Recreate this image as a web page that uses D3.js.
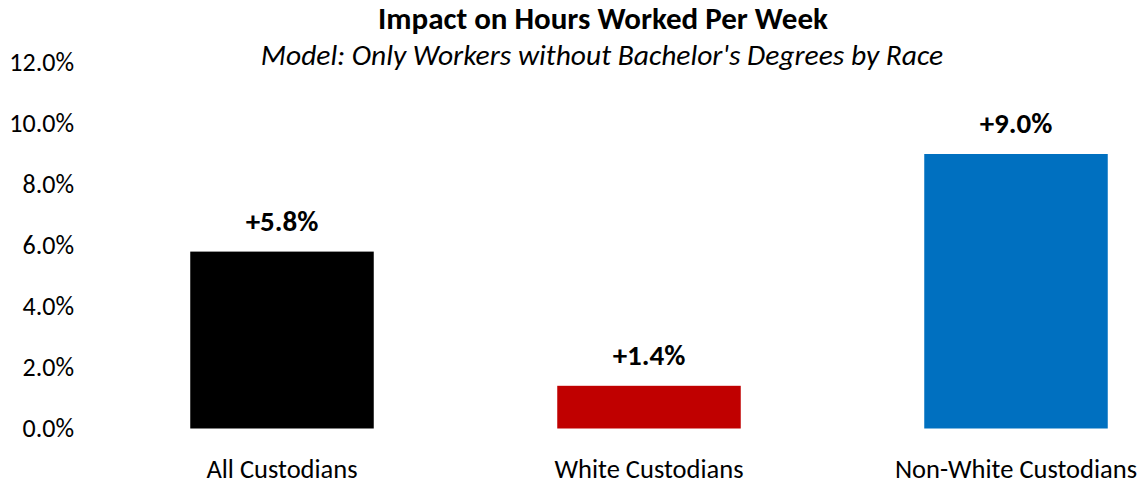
<!DOCTYPE html>
<html><head><meta charset="utf-8">
<script src="https://cdn.jsdelivr.net/npm/d3@7"></script>
<style>body{margin:0;background:#fff;} text{font-family:Carlito, Calibri, Lato, "Open Sans", sans-serif;}</style>
</head><body><svg id="c" width="1148" height="486"></svg>
<script>
const categories = ["All Custodians", "White Custodians", "Non-White Custodians"];
const values = [5.8, 1.4, 9.0];
const colors = ["#000000", "#C00000", "#0070C0"];
const yTicks = [0, 2, 4, 6, 8, 10, 12];
const title = "Impact on Hours Worked Per Week";
const subtitle = "Model: Only Workers without Bachelor's Degrees by Race";

const svg = d3.select("#c");
const x = d3.scaleBand().domain(categories).range([98.5, 1199.5]).paddingInner(0.5).paddingOuter(0.25);
const y = d3.scaleLinear().domain([0, 12]).range([428.5, 62.5]);

svg.append("text").attr("x", 603).attr("y", 29).attr("text-anchor", "middle")
  .attr("font-size", 31).attr("font-weight", "bold").text(title);
svg.append("text").attr("x", 602).attr("y", 65).attr("text-anchor", "middle")
  .attr("font-size", 29.5).attr("font-style", "italic").text(subtitle);

const yAxis = d3.axisLeft(y).tickValues(yTicks).tickFormat(d => d.toFixed(1) + "%").tickSize(0).tickPadding(0);
const ya = svg.append("g").attr("transform", "translate(74,0)").call(yAxis);
ya.select(".domain").remove();
ya.selectAll("text").attr("font-size", 26).attr("fill", "#000").attr("font-family", "Carlito, Calibri, Lato, sans-serif");

svg.selectAll("rect.bar").data(values).enter().append("rect")
  .attr("x", (d, i) => x(categories[i])).attr("width", x.bandwidth())
  .attr("y", d => y(d)).attr("height", d => y(0) - y(d))
  .attr("fill", (d, i) => colors[i]);

svg.selectAll("text.val").data(values).enter().append("text")
  .attr("x", (d, i) => x(categories[i]) + x.bandwidth() / 2)
  .attr("y", d => y(d) - 21).attr("text-anchor", "middle")
  .attr("font-size", 29).attr("font-weight", "bold")
  .text(d => "+" + d.toFixed(1) + "%");

const xAxis = d3.axisBottom(x).tickSize(0).tickPadding(0);
const xa = svg.append("g").attr("transform", "translate(0,459)").call(xAxis);
xa.select(".domain").remove();
xa.selectAll("text").attr("font-size", 26.5).attr("fill", "#000").attr("font-family", "Carlito, Calibri, Lato, sans-serif");
</script></body></html>
